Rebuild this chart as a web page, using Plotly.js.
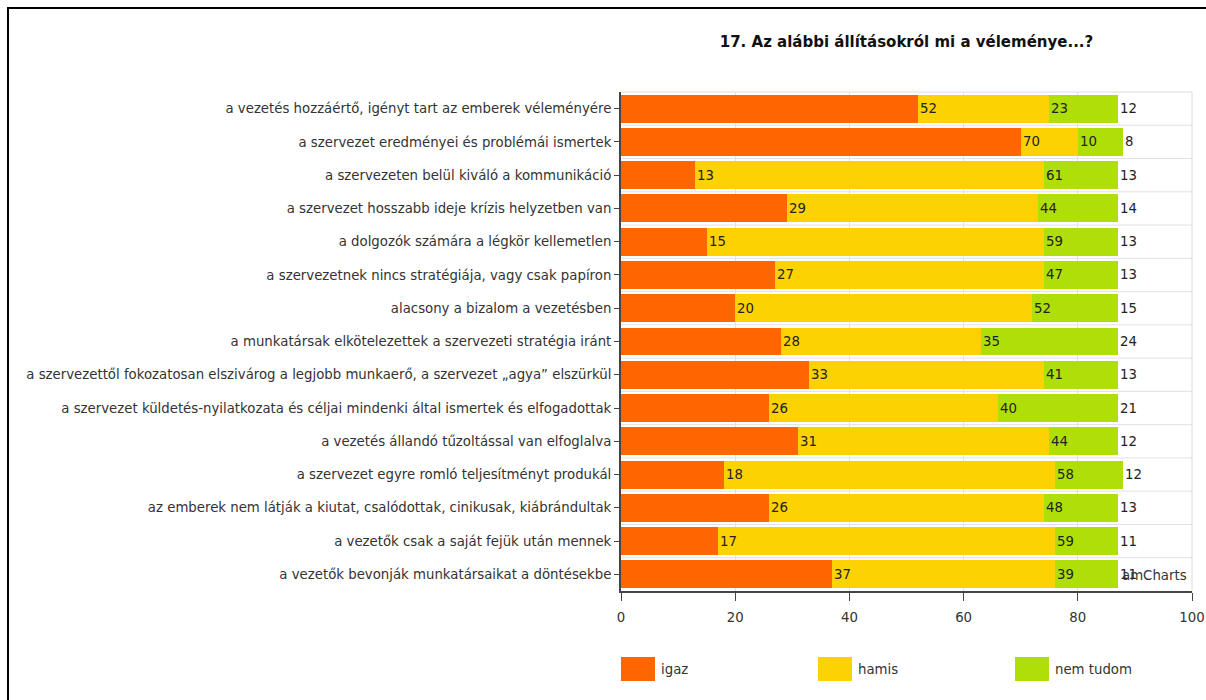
<!DOCTYPE html>
<html>
<head>
<meta charset="utf-8">
<script src="https://cdn.plot.ly/plotly-3.0.1.min.js"></script>
<style>
  html, body { margin: 0; padding: 0; background: #fff; }
  #wrap { position: relative; width: 1206px; height: 700px; }
  #chart { position: absolute; left: 0; top: 0; width: 1206px; height: 700px; }
  #frame { position: absolute; left: 7px; top: 7px; right: 0; bottom: 0;
           border-left: 2px solid #000; border-top: 2px solid #000; pointer-events: none; }
</style>
</head>
<body>
<div id="wrap">
  <div id="chart"></div>
  <div id="frame"></div>
</div>
<script>
const categories = [
  "a vezetés hozzáértő, igényt tart az emberek véleményére",
  "a szervezet eredményei és problémái ismertek",
  "a szervezeten belül kiváló a kommunikáció",
  "a szervezet hosszabb ideje krízis helyzetben van",
  "a dolgozók számára a légkör kellemetlen",
  "a szervezetnek nincs stratégiája, vagy csak papíron",
  "alacsony a bizalom a vezetésben",
  "a munkatársak elkötelezettek a szervezeti stratégia iránt",
  "a szervezettől fokozatosan elszivárog a legjobb munkaerő, a szervezet „agya” elszürkül",
  "a szervezet küldetés-nyilatkozata és céljai mindenki által ismertek és elfogadottak",
  "a vezetés állandó tűzoltással van elfoglalva",
  "a szervezet egyre romló teljesítményt produkál",
  "az emberek nem látják a kiutat, csalódottak, cinikusak, kiábrándultak",
  "a vezetők csak a saját fejük után mennek",
  "a vezetők bevonják munkatársaikat a döntésekbe"
];
const igaz     = [52, 70, 13, 29, 15, 27, 20, 28, 33, 26, 31, 18, 26, 17, 37];
const hamis    = [23, 10, 61, 44, 59, 47, 52, 35, 41, 40, 44, 58, 48, 59, 39];
const nemTudom = [12,  8, 13, 14, 13, 13, 15, 24, 13, 21, 12, 12, 13, 11, 11];
const seriesNames = ["igaz", "hamis", "nem tudom"];
const xTicks = [0, 20, 40, 60, 80, 100];
const chartTitle = "17. Az alábbi állításokról mi a véleménye...?";

const colors = ["#FF6600", "#FCD202", "#B0DE09"];
const FONT = "DejaVu Sans, sans-serif";
const FS = 13.3;
const series = [igaz, hamis, nemTudom];

const traces = series.map((vals, k) => ({
  type: "bar",
  orientation: "h",
  name: seriesNames[k],
  y: categories,
  x: vals,
  marker: { color: colors[k], line: { width: 0 } },
  showlegend: false,
  hoverinfo: "x+name"
}));

// value labels placed right after each segment's end
const annotations = [];
categories.forEach((c, i) => {
  let cum = 0;
  series.forEach((vals) => {
    cum += vals[i];
    annotations.push({
      x: cum, y: c, xref: "x", yref: "y",
      text: String(vals[i]), showarrow: false,
      xanchor: "left", yanchor: "middle", xshift: 0,
      font: { family: FONT, size: FS, color: "#222" }
    });
  });
});

// watermark
annotations.push({
  x: 1, y: 0.032, xref: "paper", yref: "paper", xanchor: "right", yanchor: "middle",
  xshift: -3, text: "amCharts", showarrow: false,
  font: { family: FONT, size: FS, color: "#333" }
});

// plot area geometry (pixels) used for manual legend
const L = 621, R = 1192, T = 92, B = 591;
const pw = R - L, ph = B - T;
const px = v => (v - L) / pw;
const py = v => (B - v) / ph;

const shapes = [];
// separators between rows
for (let i = 0; i < categories.length - 1; i++) {
  shapes.push({ type: "line", xref: "paper", yref: "y", x0: 0, x1: 1, y0: i + 0.5, y1: i + 0.5,
    line: { color: "#e2e2e2", width: 1 }, layer: "below" });
}
// top and right border of plot area
shapes.push({ type: "line", xref: "paper", yref: "paper", x0: 0, x1: 1, y0: 1, y1: 1,
  line: { color: "#dcdcdc", width: 1 }, layer: "below" });
shapes.push({ type: "line", xref: "paper", yref: "paper", x0: 1, x1: 1, y0: 0, y1: 1,
  line: { color: "#dcdcdc", width: 1 }, layer: "below" });

// manual legend
const legendX = [621, 818, 1015];
seriesNames.forEach((n, k) => {
  shapes.push({ type: "rect", xref: "paper", yref: "paper",
    x0: px(legendX[k]), x1: px(legendX[k] + 34), y0: py(681), y1: py(657),
    fillcolor: colors[k], line: { width: 0 } });
  annotations.push({ x: px(legendX[k] + 38), y: py(669), xref: "paper", yref: "paper",
    xanchor: "left", yanchor: "middle", text: n, showarrow: false,
    font: { family: FONT, size: FS, color: "#333" } });
});

const layout = {
  width: 1206, height: 700,
  margin: { l: L, r: 1206 - R, t: T, b: 700 - B, pad: 0 },
  paper_bgcolor: "#fff", plot_bgcolor: "#fff",
  barmode: "stack", bargap: 0.16,
  font: { family: FONT, size: FS, color: "#333" },
  title: {
    text: "<b>" + chartTitle + "</b>",
    x: 0.5, xref: "paper", xanchor: "center",
    y: 1 - 42 / 700, yref: "container", yanchor: "middle",
    font: { family: FONT, size: 15, color: "#111" }
  },
  xaxis: {
    range: [0, 100], tickvals: xTicks, ticktext: xTicks.map(String),
    showgrid: true, gridcolor: "#e2e2e2", gridwidth: 1,
    zeroline: false, showline: true, linecolor: "#444", linewidth: 2,
    ticks: "outside", ticklen: 8, tickcolor: "#444", tickwidth: 1,
    ticklabelstandoff: 5,
    tickfont: { family: FONT, size: FS, color: "#333" },
    fixedrange: true
  },
  yaxis: {
    type: "category", autorange: "reversed",
    showgrid: false, zeroline: false,
    showline: true, linecolor: "#444", linewidth: 2,
    ticks: "outside", ticklen: 5, tickcolor: "#444", tickwidth: 1,
    tickfont: { family: FONT, size: FS, color: "#333" },
    fixedrange: true
  },
  shapes: shapes,
  annotations: annotations,
  showlegend: false
};

Plotly.newPlot("chart", traces, layout, { displayModeBar: false, staticPlot: true });
</script>
</body>
</html>
